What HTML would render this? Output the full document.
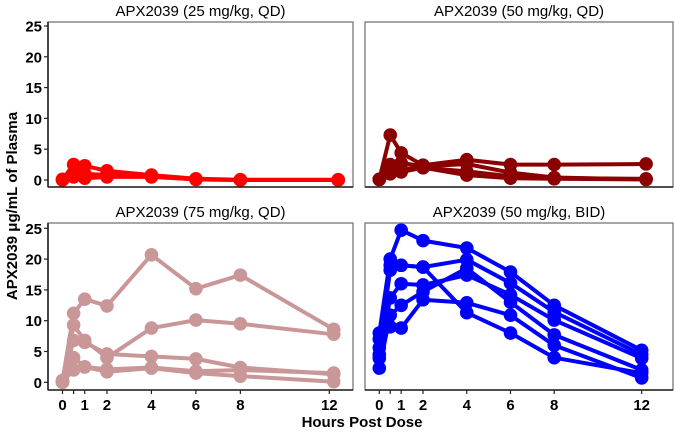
<!DOCTYPE html>
<html><head><meta charset="utf-8">
<style>
body{margin:0;background:#fff;width:675px;height:430px;overflow:hidden;font-family:"Liberation Sans",Arial,sans-serif}
svg text{font-family:"Liberation Sans",Arial,sans-serif}
</style></head>
<body>
<svg id="chart" width="675" height="430" xmlns="http://www.w3.org/2000/svg">
<text transform="translate(17,206) rotate(-90)" text-anchor="middle" font-size="15" font-weight="bold">APX2039 μg/mL of Plasma</text>
<text x="362" y="427" text-anchor="middle" font-size="15" font-weight="bold">Hours Post Dose</text>
</svg>
<script>
const timesA = [0, 0.5, 1, 2, 4, 6, 8, 12.4];
const timesB = [0, 0.5, 1, 2, 4, 6, 8, 12.2];
const timesC = [0, 0.5, 1, 2, 4, 6, 8, 12.2];
const timesD = [0, 0.5, 1, 2, 4, 6, 8, 12];
const xTicks = [0, 1, 2, 4, 6, 8, 12];
const yTicks = [0, 5, 10, 15, 20, 25];
const titles = ["APX2039 (25 mg/kg, QD)", "APX2039 (50 mg/kg, QD)", "APX2039 (75 mg/kg, QD)", "APX2039 (50 mg/kg, BID)"];
const seriesA = [
  [0.1, 2.5, 2.3, 1.5, 0.8, 0.2, 0.05, 0.05],
  [0.0, 0.5, 1.0, 0.8, 0.6, 0.1, 0.0, 0.0],
  [0.1, 1.2, 0.3, 0.5, 0.5, 0.1, 0.0, 0.0]
];
const seriesB = [
  [0.1, 7.3, 4.4, 2.4, 3.3, 2.5, 2.5, 2.6],
  [0.1, 2.5, 2.8, 2.2, 2.6, 1.2, 0.4, 0.1],
  [0.1, 1.0, 1.3, 2.0, 0.8, 0.3, 0.2, 0.1],
  [0.1, 1.8, 1.8, 2.0, 1.4, 0.6, 0.3, 0.2]
];
const seriesC = [
  [0.3, 11.2, 13.5, 12.4, 20.7, 15.2, 17.4, 8.6],
  [0.0, 9.3, 6.8, 4.0, 8.8, 10.1, 9.5, 7.8],
  [0.2, 6.8, 6.5, 4.6, 4.2, 3.8, 2.4, 1.3],
  [0.0, 4.0, 2.5, 2.1, 2.4, 1.8, 2.0, 1.5],
  [0.1, 2.0, 2.5, 1.7, 2.3, 1.5, 1.0, 0.1]
];
const seriesD = [
  [8.0, 20.0, 24.7, 23.0, 21.8, 17.9, 12.5, 5.2],
  [5.6, 18.2, 19.0, 18.7, 19.9, 16.1, 11.4, 4.5],
  [3.9, 13.7, 16.0, 15.8, 17.4, 14.2, 10.1, 3.9],
  [2.3, 10.9, 12.5, 14.7, 18.5, 13.0, 7.7, 2.0],
  [7.0, 9.0, 8.8, 13.4, 12.9, 10.9, 6.0, 0.7],
  [4.5, 19.0, 19.0, 18.7, 11.3, 8.0, 4.0, 1.5]
];
const NS = "http://www.w3.org/2000/svg";
const svg = document.getElementById("chart");
function mk(tag, attrs, parent) {
  const e = document.createElementNS(NS, tag);
  for (const k in attrs) e.setAttribute(k, attrs[k]);
  (parent || svg).appendChild(e);
  return e;
}
const panels = [
  {x0: 48, x1: 353, y0: 22, y1: 187, yz: 180, yt: 26, xz: 62.5, x12: 329.3, times: timesA, data: seriesA, color: "#ff0000", yAxis: true, xAxis: false, name: "panel-25-qd"},
  {x0: 365, x1: 673, y0: 22, y1: 187, yz: 180, yt: 26, xz: 379.3, x12: 641.7, times: timesB, data: seriesB, color: "#8b0000", yAxis: false, xAxis: false, name: "panel-50-qd"},
  {x0: 48, x1: 353, y0: 223, y1: 390, yz: 382.3, yt: 228.3, xz: 62.5, x12: 329.3, times: timesC, data: seriesC, color: "#c99798", yAxis: true, xAxis: true, name: "panel-75-qd"},
  {x0: 365, x1: 673, y0: 223, y1: 390, yz: 382.3, yt: 228.3, xz: 379.3, x12: 641.7, times: timesD, data: seriesD, color: "#0000ff", yAxis: false, xAxis: true, name: "panel-50-bid"}
];
panels.forEach((p, pi) => {
  const g = mk("g", {});
  
  
  const xs = t => p.xz + (p.x12 - p.xz) * t / 12;
  const ys = v => p.yz - (p.yz - p.yt) * v / 25;
  const tt = mk("text", {x: (p.x0 + p.x1) / 2, y: p.y0 - 6, "text-anchor": "middle", "font-size": "15"}, g);
  tt.textContent = titles[pi];
  
  
  p.data.forEach((s, si) => {
    const sg = mk("g", {}, g);
    
    
    const pts = s.map((v, i) => xs(p.times[i]).toFixed(1) + "," + ys(v).toFixed(1)).join(" ");
    const pl = mk("polyline", {points: pts, fill: "none", stroke: p.color, "stroke-width": 4, "stroke-linejoin": "round"}, sg);
    
    
    s.forEach((v, i) => {
      const c = mk("circle", {cx: xs(p.times[i]), cy: ys(v), r: 6.8, fill: p.color}, sg);
      
      
    });
  });
  const fr = mk("rect", {x: p.x0, y: p.y0, width: p.x1 - p.x0, height: p.y1 - p.y0, fill: "none", stroke: "#777", "stroke-width": 1.3}, g);
  
  
  mk("line", {x1: p.x0, y1: p.y1, x2: p.x1, y2: p.y1, stroke: "#222", "stroke-width": 1.6}, g);
  if (p.yAxis) {
    mk("line", {x1: p.x0, y1: p.y0, x2: p.x0, y2: p.y1, stroke: "#222", "stroke-width": 1.6}, g);
    yTicks.forEach(v => {
      mk("line", {x1: p.x0 - 4, y1: ys(v), x2: p.x0, y2: ys(v), stroke: "#222", "stroke-width": 1.2}, g);
      const t = mk("text", {x: p.x0 - 6, y: ys(v) + 5.5, "text-anchor": "end", "font-size": "15", "font-weight": "bold"}, g);
      t.textContent = v;
      
      
    });
  }
  if (p.xAxis) {
    [0, 0.5, 1, 2, 4, 6, 8, 12].forEach(v => {
      mk("line", {x1: xs(v), y1: p.y1, x2: xs(v), y2: p.y1 + 4, stroke: "#222", "stroke-width": 1.2}, g);
    });
    xTicks.forEach(v => {
      const t = mk("text", {x: xs(v), y: p.y1 + 20, "text-anchor": "middle", "font-size": "15", "font-weight": "bold"}, g);
      t.textContent = v;
      
      
    });
  }
});
</script>
</body></html>
